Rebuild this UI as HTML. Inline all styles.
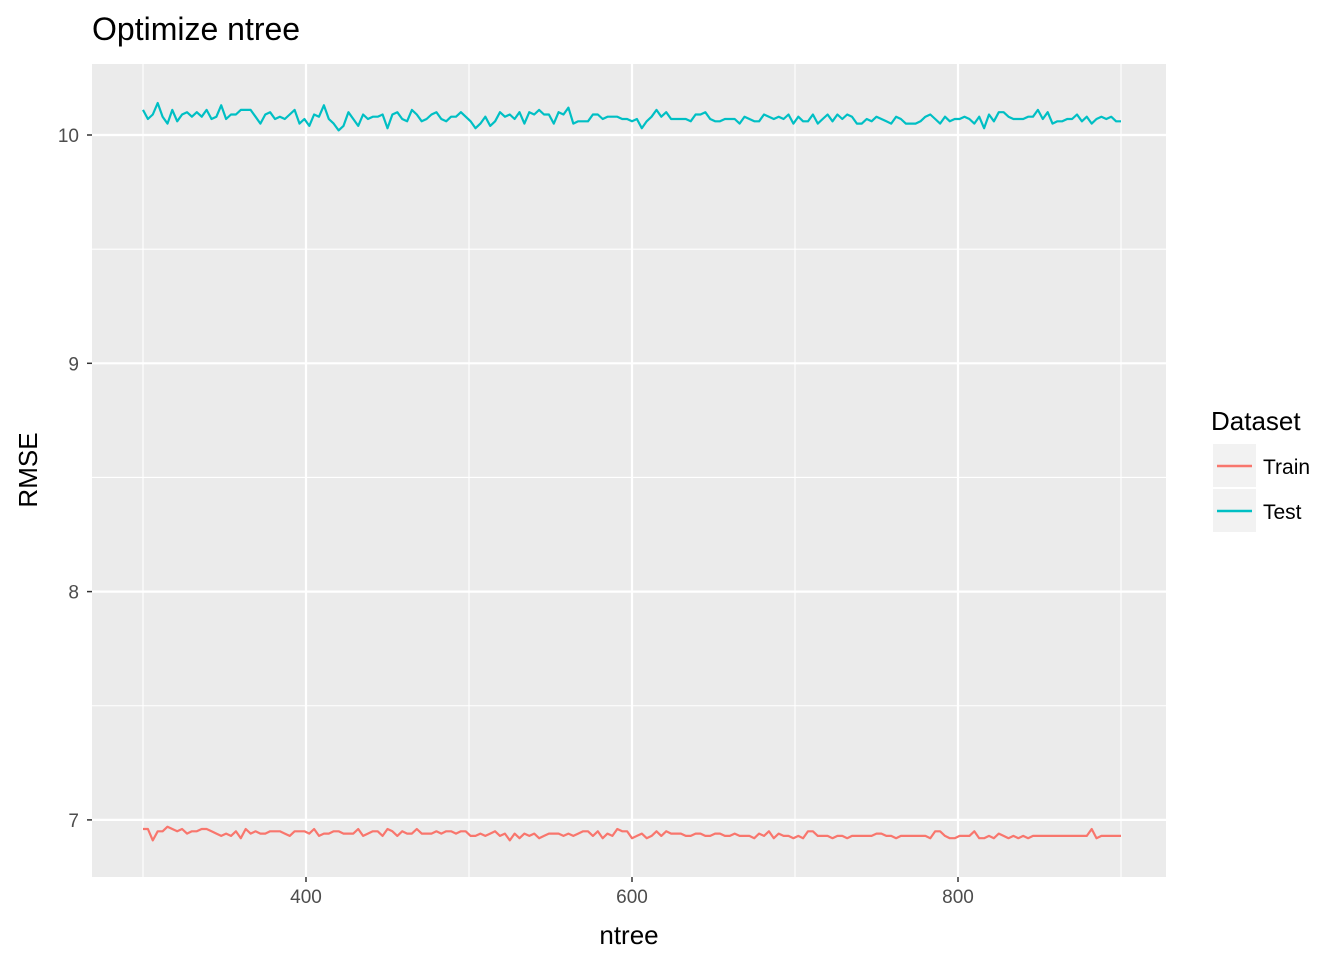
<!DOCTYPE html>
<html><head><meta charset="utf-8"><style>
body{margin:0;background:#fff;}
svg text{font-family:"Liberation Sans",sans-serif;}
</style></head><body>
<svg id="chart" width="1344" height="960" xmlns="http://www.w3.org/2000/svg">
<rect x="0" y="0" width="1344" height="960" fill="#fff"/>
<text x="92" y="40" font-size="32" fill="#000">Optimize ntree</text>
<rect x="92" y="64" width="1074" height="813" fill="#ebebeb"/>
<g id="grid"></g>
<g id="series"></g>
<g id="axes"></g>
<text x="629" y="944" font-size="26" text-anchor="middle" fill="#000">ntree</text>
<text x="37" y="470" font-size="26" text-anchor="middle" fill="#000" transform="rotate(-90 37 470)">RMSE</text>
<g>
<text x="1211" y="430" font-size="26" fill="#000">Dataset</text>
<g>
<rect x="1213" y="444" width="43" height="43" fill="#f2f2f2"/>
<line x1="1217" y1="466" x2="1252" y2="466" stroke="#F8766D" stroke-width="2.5"/>
<text x="1263" y="474" font-size="21" fill="#000">Train</text></g>
<g>
<rect x="1213" y="489" width="43" height="43" fill="#f2f2f2"/>
<line x1="1217" y1="511" x2="1252" y2="511" stroke="#00BFC4" stroke-width="2.5"/>
<text x="1263" y="519" font-size="21" fill="#000">Test</text></g>
</g>
</svg>
<script>
const ntreeStart = 300, ntreeStep = 3;
const testRMSE = [10.11,10.07,10.09,10.14,10.08,10.05,10.11,10.06,10.09,10.10,
10.08,10.10,10.08,10.11,10.07,10.08,10.13,10.07,10.09,10.09,
10.11,10.11,10.11,10.08,10.05,10.09,10.10,10.07,10.08,10.07,
10.09,10.11,10.05,10.07,10.04,10.09,10.08,10.13,10.07,10.05,
10.02,10.04,10.10,10.07,10.04,10.09,10.07,10.08,10.08,10.09,
10.03,10.09,10.10,10.07,10.06,10.11,10.09,10.06,10.07,10.09,
10.10,10.07,10.06,10.08,10.08,10.10,10.08,10.06,10.03,10.05,
10.08,10.04,10.06,10.10,10.08,10.09,10.07,10.10,10.05,10.10,
10.09,10.11,10.09,10.09,10.05,10.10,10.09,10.12,10.05,10.06,
10.06,10.06,10.09,10.09,10.07,10.08,10.08,10.08,10.07,10.07,
10.06,10.07,10.03,10.06,10.08,10.11,10.08,10.10,10.07,10.07,
10.07,10.07,10.06,10.09,10.09,10.10,10.07,10.06,10.06,10.07,
10.07,10.07,10.05,10.08,10.07,10.06,10.06,10.09,10.08,10.07,
10.08,10.07,10.09,10.05,10.08,10.06,10.06,10.09,10.05,10.07,
10.09,10.06,10.09,10.07,10.09,10.08,10.05,10.05,10.07,10.06,
10.08,10.07,10.06,10.05,10.08,10.07,10.05,10.05,10.05,10.06,
10.08,10.09,10.07,10.05,10.08,10.06,10.07,10.07,10.08,10.07,
10.05,10.08,10.03,10.09,10.06,10.10,10.10,10.08,10.07,10.07,
10.07,10.08,10.08,10.11,10.07,10.10,10.05,10.06,10.06,10.07,
10.07,10.09,10.06,10.08,10.05,10.07,10.08,10.07,10.08,10.06,10.06];
const trainRMSE = [6.96,6.96,6.91,6.95,6.95,6.97,6.96,6.95,6.96,6.94,
6.95,6.95,6.96,6.96,6.95,6.94,6.93,6.94,6.93,6.95,
6.92,6.96,6.94,6.95,6.94,6.94,6.95,6.95,6.95,6.94,
6.93,6.95,6.95,6.95,6.94,6.96,6.93,6.94,6.94,6.95,
6.95,6.94,6.94,6.94,6.96,6.93,6.94,6.95,6.95,6.93,
6.96,6.95,6.93,6.95,6.94,6.94,6.96,6.94,6.94,6.94,
6.95,6.94,6.95,6.95,6.94,6.95,6.95,6.93,6.93,6.94,
6.93,6.94,6.95,6.93,6.94,6.91,6.94,6.92,6.94,6.93,
6.94,6.92,6.93,6.94,6.94,6.94,6.93,6.94,6.93,6.94,
6.95,6.95,6.93,6.95,6.92,6.94,6.93,6.96,6.95,6.95,
6.92,6.93,6.94,6.92,6.93,6.95,6.93,6.95,6.94,6.94,
6.94,6.93,6.93,6.94,6.94,6.93,6.93,6.94,6.94,6.93,
6.93,6.94,6.93,6.93,6.93,6.92,6.94,6.93,6.95,6.92,
6.94,6.93,6.93,6.92,6.93,6.92,6.95,6.95,6.93,6.93,
6.93,6.92,6.93,6.93,6.92,6.93,6.93,6.93,6.93,6.93,
6.94,6.94,6.93,6.93,6.92,6.93,6.93,6.93,6.93,6.93,
6.93,6.92,6.95,6.95,6.93,6.92,6.92,6.93,6.93,6.93,
6.95,6.92,6.92,6.93,6.92,6.94,6.93,6.92,6.93,6.92,
6.93,6.92,6.93,6.93,6.93,6.93,6.93,6.93,6.93,6.93,
6.93,6.93,6.93,6.93,6.96,6.92,6.93,6.93,6.93,6.93,6.93];
const xMajorTicks = [400,600,800];
const xMinorTicks = [300,500,700,900];
const yMajorTicks = [7,8,9,10];
const yMinorTicks = [7.5,8.5,9.5];

const NS="http://www.w3.org/2000/svg";
const PX0=92,PX1=1166,PY0=64,PY1=877;
function xs(v){return 306+(v-400)*1.63;}
function ys(v){return 135+(10-v)*228.3;}
function mk(tag,attrs,parent){const e=document.createElementNS(NS,tag);for(const k in attrs)e.setAttribute(k,attrs[k]);parent.appendChild(e);return e;}
const grid=document.getElementById('grid'),axes=document.getElementById('axes'),series=document.getElementById('series');
xMinorTicks.forEach(v=>{const l=mk('line',{x1:xs(v),x2:xs(v),y1:PY0,y2:PY1,stroke:'#fff','stroke-width':1.1},grid);

});
yMinorTicks.forEach(v=>{const l=mk('line',{x1:PX0,x2:PX1,y1:ys(v),y2:ys(v),stroke:'#fff','stroke-width':1.1},grid);

});
xMajorTicks.forEach(v=>{const l=mk('line',{x1:xs(v),x2:xs(v),y1:PY0,y2:PY1,stroke:'#fff','stroke-width':2.2},grid);


const t=mk('line',{x1:xs(v),x2:xs(v),y1:PY1,y2:PY1+5,stroke:'#333','stroke-width':1.5},axes);


const tx=mk('text',{x:xs(v),y:PY1+26,'font-size':19,'text-anchor':'middle',fill:'#4d4d4d'},axes);tx.textContent=v;

});
yMajorTicks.forEach(v=>{const l=mk('line',{x1:PX0,x2:PX1,y1:ys(v),y2:ys(v),stroke:'#fff','stroke-width':2.2},grid);


const t=mk('line',{x1:PX0-5,x2:PX0,y1:ys(v),y2:ys(v),stroke:'#333','stroke-width':1.5},axes);


const tx=mk('text',{x:PX0-13,y:ys(v)+7,'font-size':19,'text-anchor':'end',fill:'#4d4d4d'},axes);tx.textContent=v;

});
function line(vals,color,name){const pts=vals.map((v,i)=>xs(ntreeStart+i*ntreeStep).toFixed(1)+','+ys(v).toFixed(1)).join(' ');
const p=mk('polyline',{points:pts,fill:'none',stroke:color,'stroke-width':2.2,'stroke-linejoin':'round'},series);

}
line(testRMSE,'#00BFC4','test-line');
line(trainRMSE,'#F8766D','train-line');
</script>
</body></html>
